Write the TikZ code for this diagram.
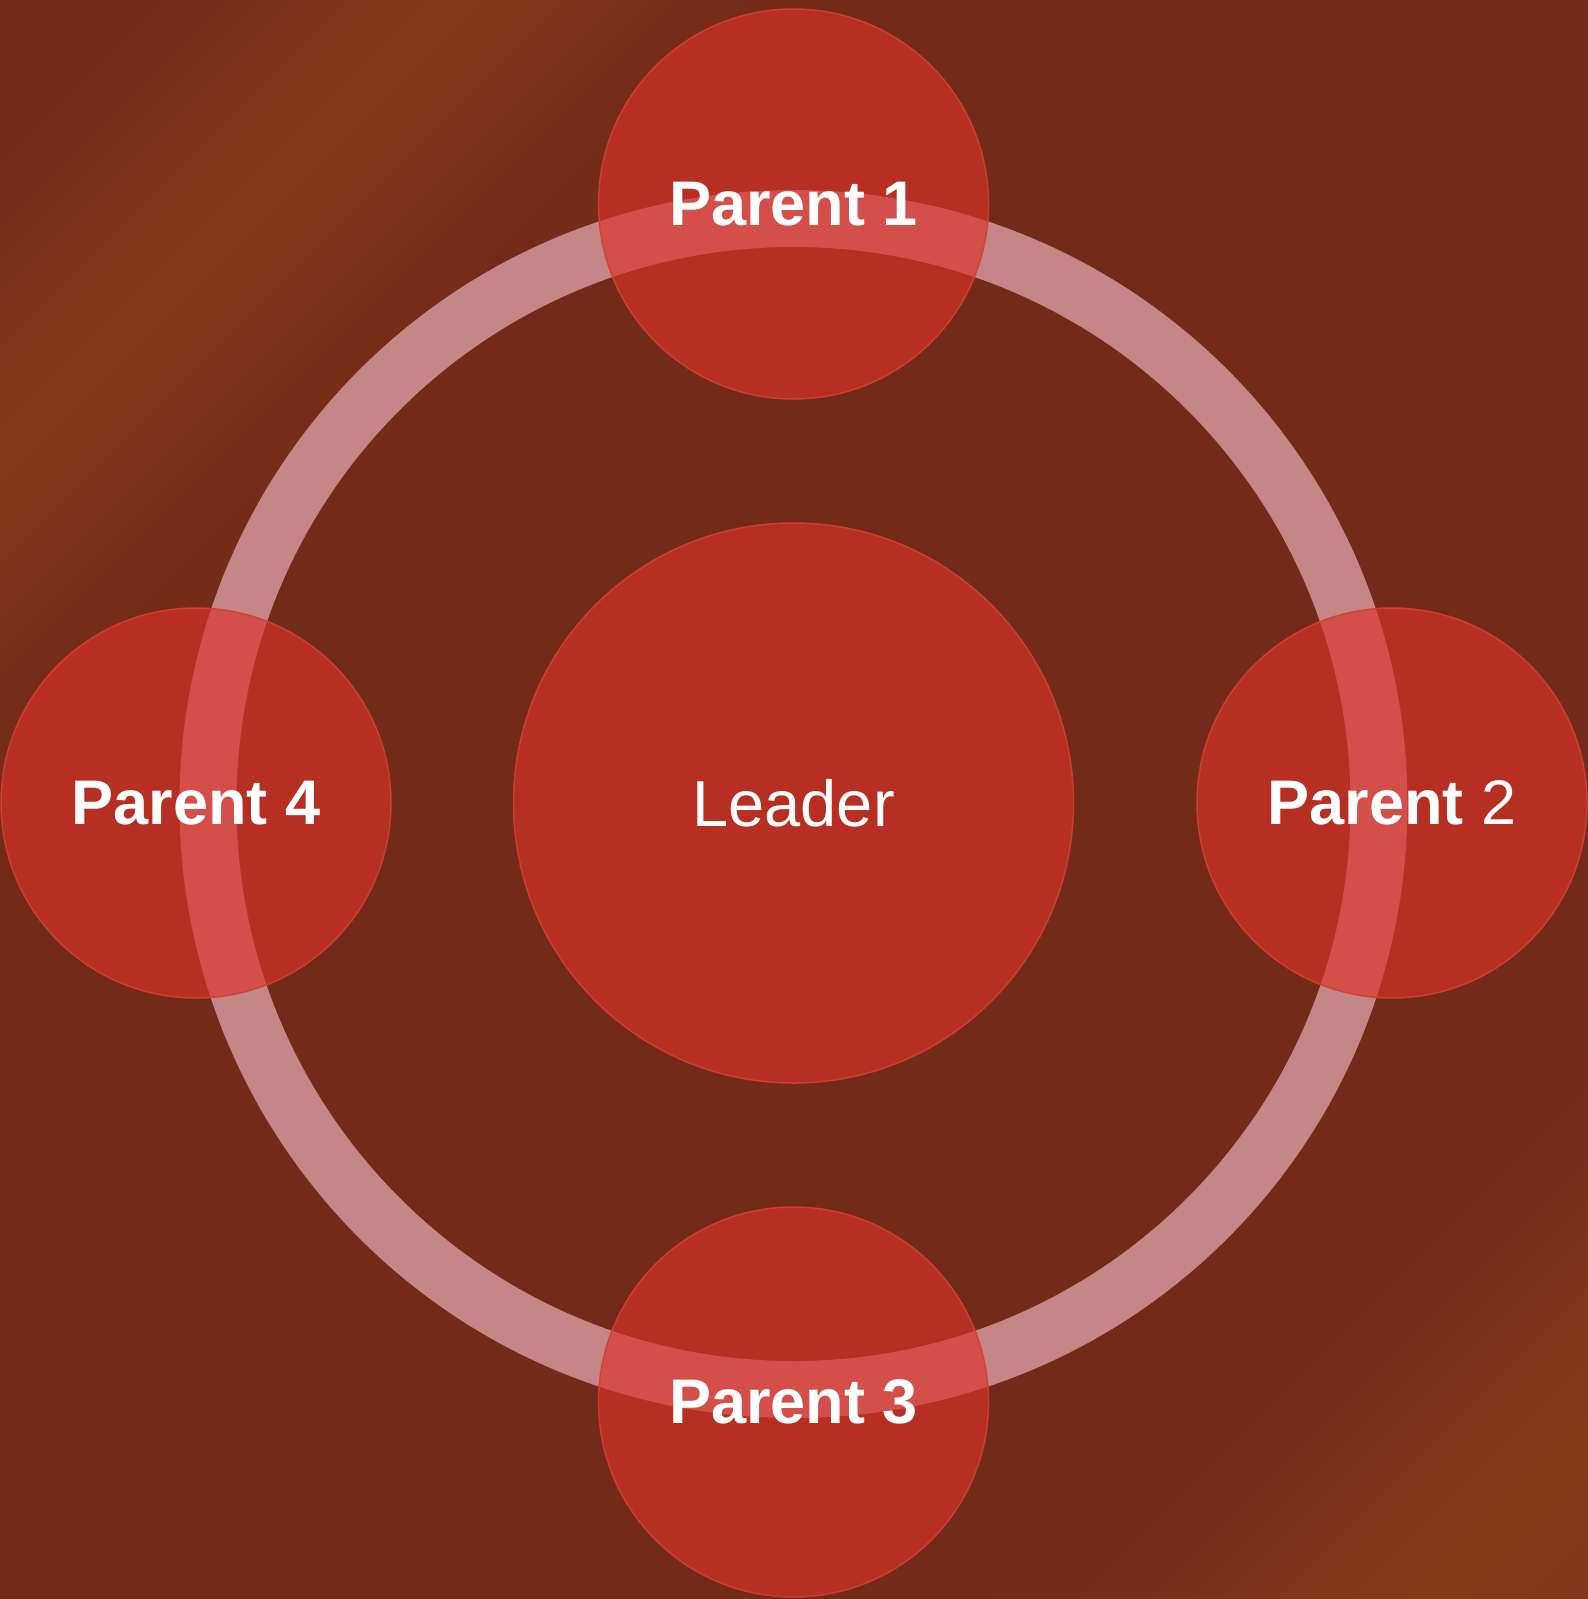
\documentclass[tikz,border=0pt]{standalone}
\usepackage{fontspec}
\setmainfont{Liberation Sans}
\definecolor{bgc}{RGB}{114,43,24}
\definecolor{bandc}{RGB}{136,58,26}
\definecolor{ringc}{RGB}{196,134,134}
\definecolor{circc}{RGB}{221,48,42}
\definecolor{rimc}{RGB}{210,64,52}
\tikzset{
  disc/.style={circle, inner sep=0pt, fill=circc, fill opacity=0.65, text opacity=1,
    draw=rimc, draw opacity=0.9, line width=1.5pt, text=white},
  parentdisc/.style={disc, minimum size=390pt, font=\fontsize{63}{76}\selectfont\bfseries},
  leaderdisc/.style={disc, minimum size=560pt, font=\fontsize{65}{78}\selectfont},
  ringband/.style={draw=ringc, line width=57pt},
}
\begin{document}
\begin{tikzpicture}[x=1pt,y=-1pt]
\useasboundingbox (0,0) rectangle (1588,1599);
\fill[bgc] (0,0) rectangle (1588,1599);
\begin{scope}
  \clip (0,0) rectangle (1588,1599);
  \foreach \s in {60,70,...,880} {
    \pgfmathsetmacro{\p}{85*exp(-((\s-450)/200)^2)}
    \fill[bandc!\p!bgc] (\s,0) -- (\s+11,0) -- (\s+11-2000,2000) -- (\s-2000,2000) -- cycle;
  }
  \foreach \s in {2500,2510,...,3200} {
    \pgfmathsetmacro{\p}{95*exp(-((\s-3030)/240)^2)}
    \fill[bandc!\p!bgc] (\s,0) -- (\s+11,0) -- (\s+11-2000,2000) -- (\s-2000,2000) -- cycle;
  }
\end{scope}
\coordinate (ctr) at (793.5,804);
\draw[ringband] (ctr) circle[radius=585.5];
\node[leaderdisc] (leader) at (793.5,803) {Leader};
\node[parentdisc] (p1) at (793.5,204) {Parent 1};
\node[parentdisc] (p2) at (1392,803) {Parent {\mdseries 2}};
\node[parentdisc] (p3) at (793.5,1402) {Parent 3};
\node[parentdisc] (p4) at (196,803) {Parent 4};
\end{tikzpicture}
\end{document}
